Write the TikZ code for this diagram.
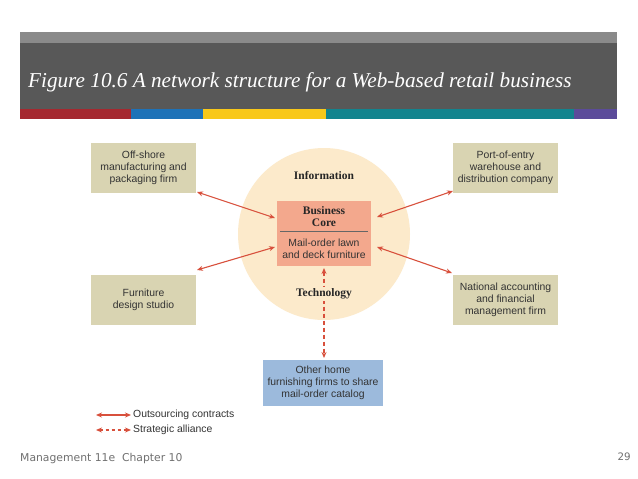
\documentclass[tikz,border=0pt]{standalone}
\usepackage{fontspec}
\setmainfont{Liberation Serif}
\setsansfont{Liberation Sans}
\newfontfamily\footfont{DejaVu Sans}
\usetikzlibrary{arrows.meta}
\definecolor{hdrlight}{HTML}{8A8A8A}
\definecolor{hdrdark}{HTML}{585858}
\definecolor{barred}{HTML}{A5282F}
\definecolor{barblue}{HTML}{1D72B8}
\definecolor{baryellow}{HTML}{F8C81A}
\definecolor{barteal}{HTML}{12848E}
\definecolor{barpurple}{HTML}{5B4B9A}
\definecolor{circfill}{HTML}{FCEACB}
\definecolor{corefill}{HTML}{F3A88D}
\definecolor{khaki}{HTML}{D9D4B2}
\definecolor{bluebox}{HTML}{9CBADC}
\definecolor{arrred}{HTML}{D8503C}
\definecolor{foot}{HTML}{707070}
\tikzset{
  partner/.style={fill=khaki, minimum width=105pt, minimum height=50pt, align=center, font=\sffamily\fontsize{10.4}{12.2}\selectfont, text=black!80, inner sep=1pt},
  link/.style={draw=arrred, line width=1.1pt, {Stealth[length=6pt,width=5pt]}-{Stealth[length=6pt,width=5pt]}},
  alliance/.style={link, dashed, dash pattern=on 4pt off 3pt},
  boldlabel/.style={font=\bfseries\fontsize{11.5}{13}\selectfont, text=black!85},
}
\begin{document}
\begin{tikzpicture}[x=1pt,y=-1pt]
\useasboundingbox (0,0) rectangle (638,479);
\fill[white] (0,0) rectangle (638,479);
% header
\fill[hdrlight] (20,32) rectangle (617,43);
\fill[hdrdark] (20,43) rectangle (617,109);
\fill[barred] (20,109) rectangle (131,119);
\fill[barblue] (131,109) rectangle (203,119);
\fill[baryellow] (203,109) rectangle (326,119);
\fill[barteal] (326,109) rectangle (574,119);
\fill[barpurple] (574,109) rectangle (617,119);
\node[anchor=base west, text=white, font=\itshape\fontsize{21.2}{22}\selectfont, inner sep=0pt] (title) at (28,87) {Figure 10.6 A network structure for a Web-based retail business};
% circle
\fill[circfill] (324,234) circle (86);
% core
\node[fill=corefill, minimum width=94pt, minimum height=65pt, inner sep=0pt] (core) at (324,233.5) {};
\node[font=\bfseries\fontsize{11.5}{12}\selectfont, align=center, text=black!85] (coretitle) at (324,217) {Business\\Core};
\draw[black!60, line width=0.6pt] (280,231.5) -- (368,231.5);
\node[font=\sffamily\fontsize{10.4}{12.2}\selectfont, align=center, text=black!80] (coresub) at (324,249) {Mail-order lawn\\and deck furniture};
% partners
\node[partner] (offshore) at (143.5,168) {Off-shore\\manufacturing and\\packaging firm};
\node[partner] (furniture) at (143.5,300) {Furniture\\design studio};
\node[partner] (port) at (505.5,168) {Port-of-entry\\warehouse and\\distribution company};
\node[partner] (national) at (505.5,300) {National accounting\\and financial\\management firm};
\node[partner, fill=bluebox, minimum width=120pt, minimum height=46pt] (other) at (323,383) {Other home\\furnishing firms to share\\mail-order catalog};
% connectors
\coordinate (c1) at (275,218);
\coordinate (c2) at (275,247);
\coordinate (c3) at (377,217);
\coordinate (c4) at (377,247);
\coordinate (o1) at (197,192);
\coordinate (f1) at (197,270);
\coordinate (p1) at (453,191);
\coordinate (n1) at (452,273);
\draw[link] (o1) -- (c1);
\draw[link] (f1) -- (c2);
\draw[link] (p1) -- (c3);
\draw[link] (n1) -- (c4);
\coordinate (d1) at (324,268);
\coordinate (d2) at (324,358);
\draw[alliance] (d1) -- (d2);
% circle labels (opaque, covering the dashed line)
\node[boldlabel] (info) at (324,176) {Information};
\node[boldlabel, fill=circfill, inner sep=1.5pt] (tech) at (324,294) {Technology};
% legend
\coordinate (l1a) at (96,415);
\coordinate (l1b) at (131,415);
\coordinate (l2a) at (96,430);
\coordinate (l2b) at (131,430);
\draw[link] (l1a) -- (l1b);
\draw[alliance, dash pattern=on 3.5pt off 2.5pt] (l2a) -- (l2b);
\node[anchor=west, font=\sffamily\fontsize{10.4}{12}\selectfont, text=black!80, inner sep=0pt] (lg1) at (133,415) {Outsourcing contracts};
\node[anchor=west, font=\sffamily\fontsize{10.4}{12}\selectfont, text=black!80, inner sep=0pt] (lg2) at (133,430) {Strategic alliance};
% footer
\node[anchor=base west, font=\footfont\fontsize{10.8}{12}\selectfont, text=foot, inner sep=0pt] (footl) at (20,461) {Management 11e\ \ Chapter 10};
\node[anchor=base east, font=\footfont\fontsize{10.3}{12}\selectfont, text=foot, inner sep=0pt] (footr) at (631,460) {29};
\end{tikzpicture}
\end{document}
